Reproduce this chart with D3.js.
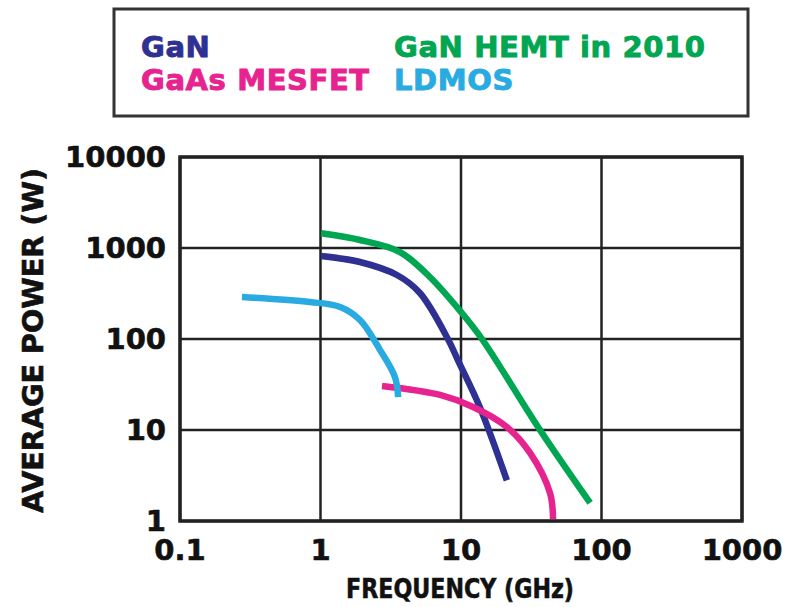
<!DOCTYPE html>
<html lang="en">
<head>
  <meta charset="UTF-8" />
  <title>Average Power vs Frequency</title>
  <style>
    body { margin: 0; background: #fff; }
    svg { display: block; }
    text { font-family: "DejaVu Sans", sans-serif; font-weight: bold; }
  </style>
</head>
<body>
  <svg width="788" height="607"></svg>

  <script src="https://d3js.org/d3.v7.min.js"></script>
  <script>
    // Series: [frequency GHz, average power W]
    const ganHemt2010 = [[1.01, 1450], [1.91, 1224], [3.68, 903], [6.0, 480], [10, 198], [14.1, 100], [36.5, 10], [83, 1.58]];
    const gan = [[1.01, 817], [1.91, 702], [3.5, 505], [5.1, 320], [8.07, 100], [9.5, 58.6], [13.6, 17.9], [21.2, 2.8]];
    const gaasMesfet = [[2.74, 30.5], [7.1, 24.3], [12.2, 17.9], [21.2, 10.8], [31, 5.6], [43, 2.03], [45.2, 1.05]];
    const ldmos = [[0.276, 289], [0.84, 255], [1.38, 225], [1.91, 162], [2.65, 76], [3.39, 38], [3.57, 23]];

    const xTicks = [0.1, 1, 10, 100, 1000];
    const yTicks = [1, 10, 100, 1000, 10000];

    const series = [
      { name: 'GaN', data: gan, color: '#2e3192' },
      { name: 'GaN HEMT in 2010', data: ganHemt2010, color: '#00a651' },
      { name: 'GaAs MESFET', data: gaasMesfet, color: '#e6238f' },
      { name: 'LDMOS', data: ldmos, color: '#29abe2' }
    ];

    const svg = d3.select('svg');
    const plotL = 180, plotR = 742, plotT = 157, plotB = 521;

    const x = d3.scaleLog().domain([0.1, 1000]).range([plotL, plotR]);
    const y = d3.scaleLog().domain([1, 10000]).range([plotB, plotT]);

    // legend box
    svg.append('rect')
      .attr('x', 114).attr('y', 9)
      .attr('width', 634).attr('height', 107)
      .attr('fill', 'none').attr('stroke', '#333').attr('stroke-width', 3);

    const legendPos = [[141, 57], [394, 57], [141, 90], [394, 90]];
    series.forEach((s, i) => {
      svg.append('text')
        .attr('x', legendPos[i][0]).attr('y', legendPos[i][1])
        .attr('font-size', 29)
        .attr('letter-spacing', 0.6)
        .attr('fill', s.color)
        .attr('stroke', s.color).attr('stroke-width', 0.9)
        .text(s.name);
    });

    // grid
    const grid = svg.append('g').attr('stroke', '#222').attr('stroke-width', 2.5);
    xTicks.forEach(t => {
      grid.append('line').attr('x1', x(t)).attr('x2', x(t)).attr('y1', plotT).attr('y2', plotB);
    });
    yTicks.forEach(t => {
      grid.append('line').attr('x1', plotL).attr('x2', plotR).attr('y1', y(t)).attr('y2', y(t));
    });
    svg.append('rect')
      .attr('x', plotL).attr('y', plotT)
      .attr('width', plotR - plotL).attr('height', plotB - plotT)
      .attr('fill', 'none').attr('stroke', '#222').attr('stroke-width', 3.5);

    // tick labels
    svg.selectAll('.ytick').data(yTicks).enter().append('text')
      .attr('class', 'ytick')
      .attr('x', 166).attr('y', d => y(d) + 10)
      .attr('text-anchor', 'end')
      .attr('font-size', 29).attr('fill', '#111')
      .attr('stroke', '#111').attr('stroke-width', 0.6)
      .text(d => d);
    svg.selectAll('.xtick').data(xTicks).enter().append('text')
      .attr('class', 'xtick')
      .attr('x', d => x(d)).attr('y', 560)
      .attr('text-anchor', 'middle')
      .attr('font-size', 29).attr('fill', '#111')
      .attr('stroke', '#111').attr('stroke-width', 0.6)
      .text(d => d);

    // axis titles
    svg.append('text')
      .attr('x', 346).attr('y', 598)
      .attr('font-size', 27).attr('fill', '#111')
      .attr('stroke', '#111').attr('stroke-width', 0.6)
      .attr('textLength', 228).attr('lengthAdjust', 'spacingAndGlyphs')
      .text('FREQUENCY (GHz)');
    svg.append('text')
      .attr('transform', 'translate(43,513) rotate(-90)')
      .attr('font-size', 29).attr('fill', '#111')
      .attr('stroke', '#111').attr('stroke-width', 0.6)
      .attr('textLength', 345).attr('lengthAdjust', 'spacingAndGlyphs')
      .text('AVERAGE POWER (W)');

    // curves
    const line = d3.line()
      .x(d => x(d[0]))
      .y(d => y(d[1]))
      .curve(d3.curveCatmullRom.alpha(0.5));

    svg.selectAll('.curve').data(series).enter().append('path')
      .attr('class', 'curve')
      .attr('d', d => line(d.data))
      .attr('fill', 'none')
      .attr('stroke', d => d.color)
      .attr('stroke-width', 6.5)
      .attr('stroke-linecap', 'butt');
  </script>
</body>
</html>
